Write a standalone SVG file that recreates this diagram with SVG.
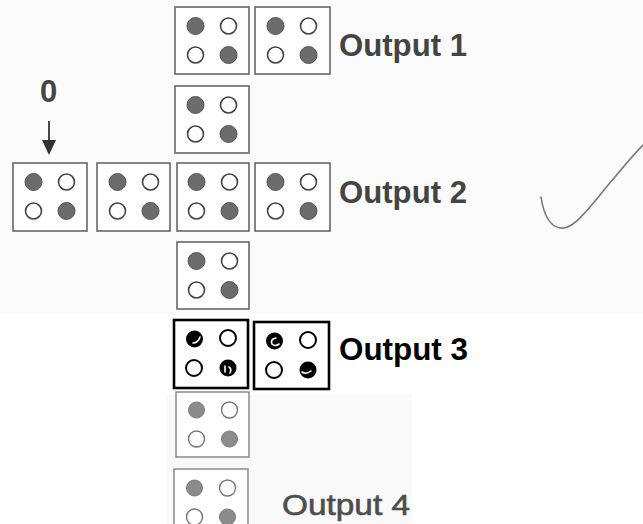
<svg xmlns="http://www.w3.org/2000/svg" width="643" height="524" viewBox="0 0 643 524">
<style>
.box{fill:#ffffff;stroke:#666;stroke-width:1.6}
.boxk{fill:#ffffff;stroke:#000;stroke-width:2.6}
.boxl{fill:#ffffff;stroke:#8a8a8a;stroke-width:1.5}
.on{fill:#6c6c6c;stroke:#555;stroke-width:1}
.onl{fill:#8c8c8c;stroke:#7a7a7a;stroke-width:1}
.onk{fill:#000}
.off{fill:#fff;stroke:#444;stroke-width:1.6}
.offk{fill:#fff;stroke:#000;stroke-width:2}
.offl{fill:#fff;stroke:#777;stroke-width:1.4}
.sw{fill:none;stroke:#fff;stroke-width:1.6;stroke-linecap:round}
.lbl{font-family:"Liberation Sans",Arial,sans-serif;font-size:31px;font-weight:bold;fill:#444}
</style>
<defs>
<g id="cell">
<circle class="on" cx="20.5" cy="19" r="8.5"/>
<circle class="off" cx="53.5" cy="19" r="8"/>
<circle class="off" cx="20.5" cy="48" r="8"/>
<circle class="on" cx="53.5" cy="48" r="8.5"/>
</g>
<g id="celll">
<circle class="onl" cx="20.5" cy="19" r="8"/>
<circle class="offl" cx="53.5" cy="19" r="8"/>
<circle class="offl" cx="20.5" cy="48" r="8"/>
<circle class="onl" cx="53.5" cy="48" r="8"/>
</g>
</defs>
<rect x="0" y="0" width="643" height="524" fill="#ffffff"/>
<rect x="0" y="0" width="643" height="314" fill="#fbfbfb"/>
<rect x="166" y="395" width="246" height="129" fill="#f9f9f9"/>

<g id="connectors">
<line x1="49" y1="121" x2="49" y2="142" stroke="#333" stroke-width="1.8"/>
<polygon points="42,140 56,140 49,155" fill="#333"/>
</g>

<g id="label-0"><text x="48.5" y="102" text-anchor="middle" class="lbl" font-size="28px">0</text></g>

<g id="r1a"><rect class="box" x="175" y="7" width="74" height="67"/><use href="#cell" x="175" y="7"/></g>
<g id="r1b"><rect class="box" x="255" y="7" width="75" height="67"/><use href="#cell" x="255" y="7"/></g>
<g id="out1"><text class="lbl" x="339" y="56" textLength="128" lengthAdjust="spacingAndGlyphs">Output 1</text></g>

<g id="r2"><rect class="box" x="175" y="86" width="74" height="67"/><use href="#cell" x="175" y="86"/></g>

<g id="r3a"><rect class="box" x="13" y="163" width="74" height="68"/><use href="#cell" x="13" y="163"/></g>
<g id="r3b"><rect class="box" x="97" y="163" width="73" height="68"/><use href="#cell" x="97" y="163"/></g>
<g id="r3c"><rect class="box" x="177" y="163" width="72" height="68"/><use href="#cell" x="176" y="163"/></g>
<g id="r3d"><rect class="box" x="255" y="163" width="75" height="68"/><use href="#cell" x="255" y="163"/></g>
<g id="out2"><text class="lbl" x="339" y="203" textLength="128" lengthAdjust="spacingAndGlyphs">Output 2</text></g>

<g id="r4"><rect class="box" x="177" y="242" width="72" height="67"/><use href="#cell" x="176" y="242"/></g>

<g id="r5a"><rect class="boxk" x="174" y="320" width="74" height="68"/>
<circle class="onk" cx="194.5" cy="339" r="8.5"/>
<path class="sw" d="M193,343 Q198,343 200,337"/>
<circle class="offk" cx="228" cy="338" r="8"/>
<circle class="offk" cx="194" cy="368" r="8"/>
<circle class="onk" cx="228" cy="368" r="8.5"/>
<path class="sw" d="M225,366 L225,372 M229,367 Q232,369 230,373"/>
</g>
<g id="r5b"><rect class="boxk" x="254" y="322" width="75" height="67"/>
<circle class="onk" cx="274.5" cy="341" r="8.5"/>
<path class="sw" d="M276,338 Q270,339 272,344 Q275,347 279,344"/>
<circle class="offk" cx="308" cy="340" r="8"/>
<circle class="offk" cx="274" cy="370" r="8"/>
<circle class="onk" cx="308" cy="370" r="8.5"/>
<path class="sw" d="M302,372 Q306,375 311,371"/>
</g>
<g id="out3"><text class="lbl" x="339" y="360" style="fill:#000" textLength="129" lengthAdjust="spacingAndGlyphs">Output 3</text></g>

<g id="r6"><rect class="boxl" x="176" y="392" width="73" height="65"/><use href="#celll" x="176" y="391"/></g>
<g id="r7"><rect class="boxl" x="174" y="469" width="74" height="67"/><use href="#celll" x="174" y="469"/></g>
<g id="out4"><text x="282" y="515" font-family="'Liberation Sans',Arial,sans-serif" font-size="30px" fill="#4d4d4d" stroke="#4d4d4d" stroke-width="0.6" textLength="128" lengthAdjust="spacingAndGlyphs">Output 4</text></g>

<g id="check"><path d="M541,197 C543,210 548,226 560,228 C572,230 585,213 600,195 C615,177 630,158 643,145" fill="none" stroke="#777" stroke-width="1.6" stroke-linecap="round"/></g>
</svg>
